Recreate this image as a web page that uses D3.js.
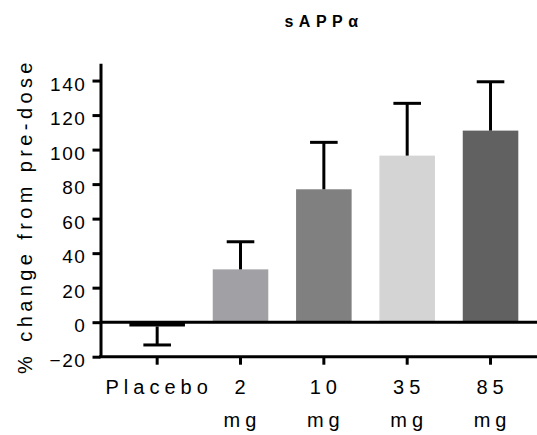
<!DOCTYPE html>
<html>
<head>
<meta charset="utf-8">
<script src="https://cdn.jsdelivr.net/npm/d3@7"></script>
<style>
  body { margin: 0; background: #fff; }
  svg { display: block; font-family: "Liberation Sans", Arial, sans-serif; }
</style>
</head>
<body>
<div id="chart"></div>
<script>
// values
const categories = ['Placebo', '2 mg', '10 mg', '35 mg', '85 mg'];
const means = [-2.5, 30.6, 77, 96.5, 111];
const errors = [10.7, 16, 27.2, 30.3, 28.3];
const barColors = ['#000000', '#a1a1a5', '#808080', '#d4d4d4', '#616161'];
const yTicks = [-20, 0, 20, 40, 60, 80, 100, 120, 140];

const width = 537, height = 435;
const axisLeft = 100.5;

const svg = d3.select('#chart').append('svg')
    .attr('width', width)
    .attr('height', height);

const y = d3.scaleLinear()
    .domain([-20, 150])
    .range([356.7, 63.3]);

const x = d3.scaleBand()
    .domain(categories)
    .range([115.5, 532.2])
    .paddingInner(1 / 3)
    .paddingOuter(1 / 6);

const data = categories.map((c, i) => ({cat: c, mean: means[i], err: errors[i], color: barColors[i]}));

// bars
svg.selectAll('.bar')
    .data(data)
  .join('rect')
    .attr('class', 'bar')
    .attr('x', d => x(d.cat))
    .attr('width', x.bandwidth())
    .attr('y', d => y(Math.max(0, d.mean)))
    .attr('height', d => Math.abs(y(d.mean) - y(0)))
    .attr('fill', d => d.color);

// error bars (one-sided, away from zero)
const capHalf = 13.8;
const errEnd = d => d.mean >= 0 ? d.mean + d.err : d.mean - d.err;
const eb = svg.selectAll('.errbar')
    .data(data)
  .join('g')
    .attr('class', 'errbar')
    .attr('stroke', '#000')
    .attr('stroke-width', 3);
eb.append('line')
    .attr('x1', d => x(d.cat) + x.bandwidth() / 2)
    .attr('x2', d => x(d.cat) + x.bandwidth() / 2)
    .attr('y1', d => y(d.mean))
    .attr('y2', d => y(errEnd(d)));
eb.append('line')
    .attr('x1', d => x(d.cat) + x.bandwidth() / 2 - capHalf)
    .attr('x2', d => x(d.cat) + x.bandwidth() / 2 + capHalf)
    .attr('y1', d => y(errEnd(d)))
    .attr('y2', d => y(errEnd(d)));

// zero line and bottom axis line run to the right edge
svg.append('line')
    .attr('x1', axisLeft).attr('x2', width)
    .attr('y1', y(0)).attr('y2', y(0))
    .attr('stroke', '#000').attr('stroke-width', 3);
svg.append('line')
    .attr('x1', axisLeft - 1.5).attr('x2', width)
    .attr('y1', y(-20)).attr('y2', y(-20))
    .attr('stroke', '#000').attr('stroke-width', 3);

// y axis
const yAxis = svg.append('g')
    .attr('transform', `translate(${axisLeft},0)`)
    .call(d3.axisLeft(y).tickValues(yTicks).tickSize(8).tickSizeOuter(0).tickPadding(6));
yAxis.select('.domain').attr('stroke-width', 3);
yAxis.selectAll('.tick line').attr('stroke-width', 3);
yAxis.selectAll('.tick text')
    .attr('font-size', 19)
    .attr('fill', '#000')
    .attr('dy', '0.5em')
    .style('letter-spacing', '1.6px')
    .attr('font-family', '"Liberation Sans", Arial, sans-serif');

// x axis (ticks and two-line labels)
const xAxis = svg.append('g')
    .attr('transform', `translate(0,${y(-20)})`)
    .call(d3.axisBottom(x).tickSize(8).tickSizeOuter(0));
xAxis.select('.domain').remove();
xAxis.selectAll('.tick line').attr('stroke-width', 3);
xAxis.selectAll('.tick text').remove();
xAxis.selectAll('.tick').each(function(d) {
  const parts = d.split(' ');
  const t = d3.select(this).append('text')
      .attr('fill', '#000')
      .attr('font-size', 20)
      .attr('text-anchor', 'middle')
      .style('letter-spacing', '5px')
      .attr('font-family', '"Liberation Sans", Arial, sans-serif');
  parts.forEach((p, i) => {
    t.append('tspan')
        .attr('x', 2)
        .attr('y', 37 + i * 33)
        .text(p);
  });
});

// y axis title
svg.append('text')
    .attr('transform', 'translate(32,216) rotate(-90)')
    .attr('text-anchor', 'middle')
    .attr('font-size', 20)
    .style('letter-spacing', '4.4px')
    .text('% change from pre-dose');

// chart title
svg.append('text')
    .attr('x', 324)
    .attr('y', 27)
    .attr('text-anchor', 'middle')
    .attr('font-size', 16)
    .attr('font-weight', 'bold')
    .style('letter-spacing', '5.5px')
    .text('sAPPα');
</script>
</body>
</html>
